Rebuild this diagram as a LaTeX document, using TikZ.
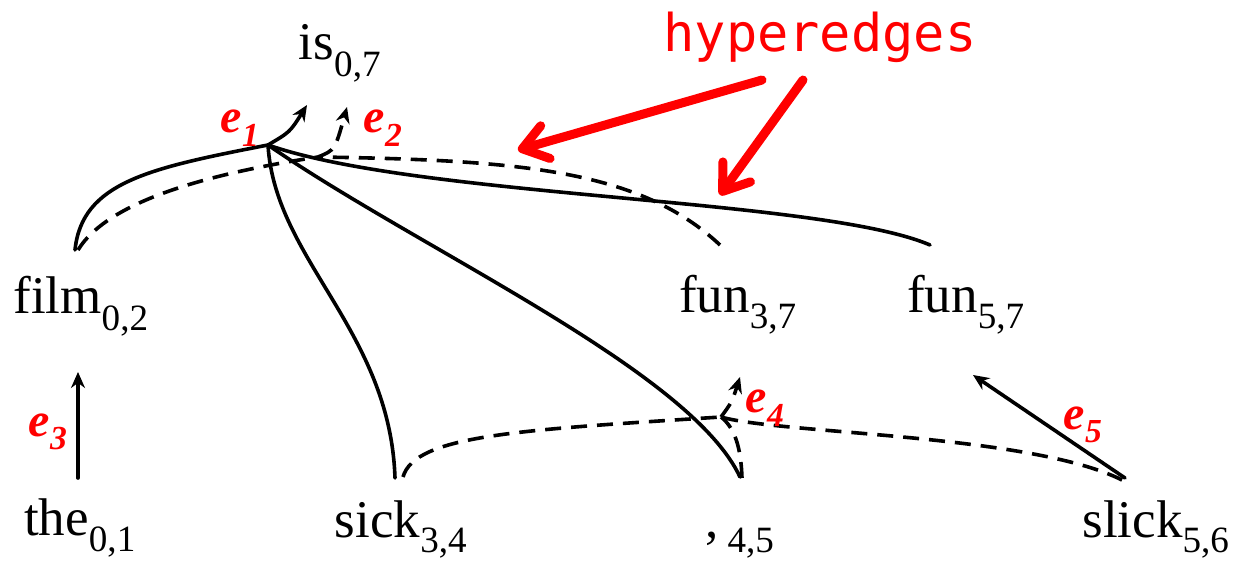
\documentclass[tikz,border=0pt]{standalone}
\usepackage{fontspec}
\setmainfont{Liberation Serif}
\newfontfamily\notefont{DejaVu Sans Mono}
\usetikzlibrary{arrows.meta,calc}

\newcommand{\wtok}[2]{#1\textsubscript{#2}}
\newcommand{\elab}[1]{e\textsubscript{#1}}

\begin{document}
\begin{tikzpicture}[
    x=1pt, y=1pt,
    >=Stealth,
    tok/.style={font=\fontsize{53}{60}\selectfont, anchor=base, inner sep=0pt},
    lbl/.style={font=\fontsize{48}{54}\selectfont\bfseries\itshape, text=red, inner sep=0pt},
    hyp/.style={line width=3.6pt, line cap=round},
    hypd/.style={line width=3.6pt, dash pattern=on 16pt off 10pt},
    arr/.style={-{Stealth[length=16pt,width=14pt]}},
    note/.style={line width=9pt, color=red, line cap=round,
                 -{Straight Barb[length=24pt,width=34pt,round]}},
  ]
  \useasboundingbox (0,0) rectangle (1235,560);

  % words
  \node[tok] (is) at (340,500) {\wtok{is}{0,7}};
  \node[tok] (film) at (81,246) {\wtok{film}{0,2}};
  \node[tok] (fun37) at (738,247) {\wtok{fun}{3,7}};
  \node[tok] (fun57) at (966,247) {\wtok{fun}{5,7}};
  \node[tok] (the) at (80,25) {\wtok{the}{0,1}};
  \node[tok] (sick) at (401,23) {\wtok{sick}{3,4}};
  \node[tok] (comma) at (740,23) {\wtok{,\,}{4,5}};
  \node[tok] (slick) at (1156,23) {\wtok{slick}{5,6}};

  % junctions of the hyperedges
  \coordinate (j1) at (268,415);
  \coordinate (j2) at (318,403);
  \coordinate (j4) at (721,143);

  % e1
  \draw[hyp] ($(film.base)+(-6,64)$) .. controls (82,378) and (150,392) .. (j1);
  \draw[hyp] ($(sick.base)+(-6,59)$) .. controls (390,230) and (275,300) .. (j1);
  \draw[hyp] ($(comma.base)+(0,60)$) .. controls (690,190) and (420,310) .. (j1);
  \draw[hyp] ($(fun57.base)+(-36,68)$) .. controls (820,362) and (420,362) .. (j1);
  \draw[hyp,arr] (j1) .. controls (290,428) .. ($(is.base)+(-33,-45)$);

  % e2
  \draw[hypd] ($(film.base)+(-3,64)$) .. controls (110,362) and (220,388) .. (j2);
  \draw[hypd] ($(fun37.base)+(-18,68)$) .. controls (640,390) and (520,400) .. (j2);
  \draw[hypd,arr] (j2) .. controls (335,410) .. ($(is.base)+(7,-47)$);

  % e3
  \draw[hyp,arr] ($(the.base)+(-2,57)$) -- ($(film.base)+(-3,-58)$);

  % e4
  \draw[hypd] ($(sick.base)+(2,60)$) .. controls (415,125) and (520,130) .. (j4);
  \draw[hypd] ($(comma.base)+(2,59)$) .. controls (741,112) and (735,132) .. (j4);
  \draw[hypd] ($(slick.base)+(-34,57)$) .. controls (1030,126) and (780,126) .. (j4);
  \draw[hypd,arr] (j4) .. controls (732,158) .. ($(fun37.base)+(2,-64)$);

  % e5
  \draw[hyp,arr] ($(slick.base)+(-31,59)$) -- ($(fun57.base)+(7,-62)$);

  % edge labels
  \node[lbl] (l1) at (240,432) {\elab{1}};
  \node[lbl] (l2) at (383,432) {\elab{2}};
  \node[lbl] (l3) at (48,128) {\elab{3}};
  \node[lbl] (l4) at (765,152) {\elab{4}};
  \node[lbl] (l5) at (1083,135) {\elab{5}};

  % annotation
  \node[anchor=base, text=red, inner sep=0pt, font=\notefont\fontsize{52}{58}\selectfont]
    (hyper) at (820,508) {hyperedges};
  \coordinate (he1) at (518,410);
  \coordinate (he2) at (720,365);
  \draw[note] ($(hyper.base)+(-58,-28)$) -- (he1);
  \draw[note] ($(hyper.base)+(-17,-28)$) -- (he2);
\end{tikzpicture}
\end{document}
